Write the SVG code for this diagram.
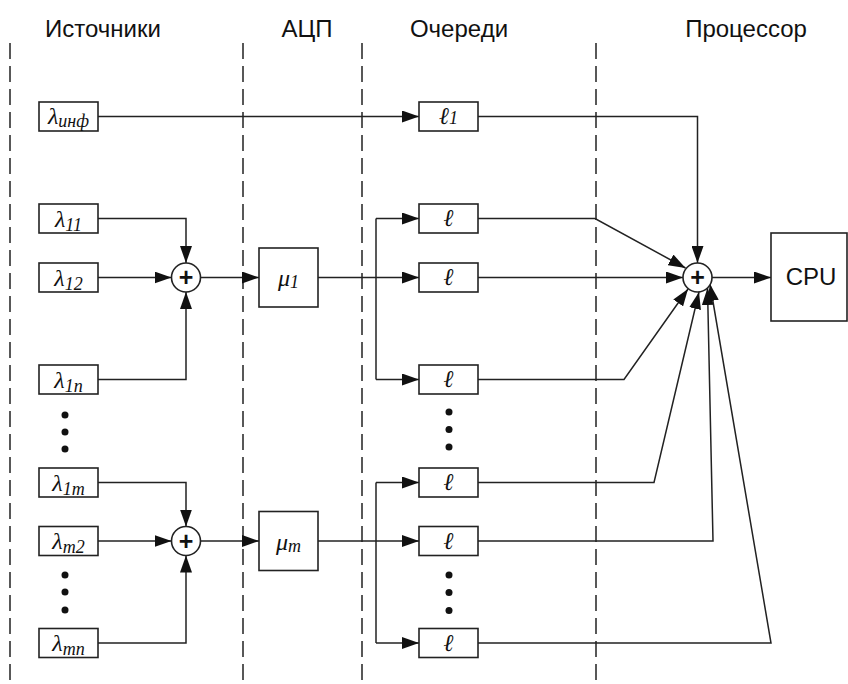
<svg xmlns="http://www.w3.org/2000/svg" width="848" height="684" viewBox="0 0 848 684">
<style>
.title{font-family:"Liberation Sans",Arial,sans-serif;font-size:24px;fill:#111;text-anchor:middle}
.box{fill:#fff;stroke:#222;stroke-width:1.6}
.ln{fill:none;stroke:#222;stroke-width:1.5}
.dash{fill:none;stroke:#222;stroke-width:1.5;stroke-dasharray:16,7}
.lbl{font-family:"Liberation Serif","Times New Roman",serif;font-style:italic;font-size:24px;fill:#111;text-anchor:middle}
.sub{font-size:18px}
.plus{font-family:"Liberation Sans",Arial,sans-serif;font-weight:bold;font-size:25px;fill:#111;text-anchor:middle}
.dot{fill:#111}
</style>
<defs>
<marker id="ar" markerUnits="userSpaceOnUse" markerWidth="18" markerHeight="12" refX="17" refY="6" orient="auto">
<path d="M0,0 L17,6 L0,12 z" fill="#111"/>
</marker>
</defs>
<rect width="848" height="684" fill="#fff"/>
<g id="titles">
<text class="title" x="103" y="37">Источники</text>
<text class="title" x="307" y="37">АЦП</text>
<text class="title" x="459" y="37">Очереди</text>
<text class="title" x="746" y="37">Процессор</text>
</g>
<g id="separators">
<line class="dash" x1="10" y1="43" x2="10" y2="684"/>
<line class="dash" x1="243" y1="43" x2="243" y2="684"/>
<line class="dash" x1="362" y1="43" x2="362" y2="684"/>
<line class="dash" x1="596" y1="43" x2="596" y2="684"/>
</g>
<g id="connectors">
<polyline class="ln" points="98,116.5 419,116.5" marker-end="url(#ar)"/>
<polyline class="ln" points="98,218.5 186,218.5 186,263" marker-end="url(#ar)"/>
<polyline class="ln" points="98,277.5 171.5,277.5" marker-end="url(#ar)"/>
<polyline class="ln" points="98,379.5 186,379.5 186,292" marker-end="url(#ar)"/>
<polyline class="ln" points="200.5,277.5 259,277.5" marker-end="url(#ar)"/>
<polyline class="ln" points="98,482.5 186,482.5 186,526.5" marker-end="url(#ar)"/>
<polyline class="ln" points="98,541 171.5,541" marker-end="url(#ar)"/>
<polyline class="ln" points="98,643 186,643 186,555.5" marker-end="url(#ar)"/>
<polyline class="ln" points="200.5,541 259,541" marker-end="url(#ar)"/>
<polyline class="ln" points="318,277.5 419,277.5" marker-end="url(#ar)"/>
<polyline class="ln" points="376,218.5 376,379.5"/>
<polyline class="ln" points="376,218.5 419,218.5" marker-end="url(#ar)"/>
<polyline class="ln" points="376,379.5 419,379.5" marker-end="url(#ar)"/>
<polyline class="ln" points="318,541 419,541" marker-end="url(#ar)"/>
<polyline class="ln" points="376,482.5 376,643"/>
<polyline class="ln" points="376,482.5 419,482.5" marker-end="url(#ar)"/>
<polyline class="ln" points="376,643 419,643" marker-end="url(#ar)"/>
<polyline class="ln" points="478,116.5 697.5,116.5 697.5,263" marker-end="url(#ar)"/>
<polyline class="ln" points="478,218.5 595,218.5 685.5,268" marker-end="url(#ar)"/>
<polyline class="ln" points="478,277.5 683,277.5" marker-end="url(#ar)"/>
<polyline class="ln" points="478,379.5 624,379.5 688,289" marker-end="url(#ar)"/>
<polyline class="ln" points="478,482.5 654,482.5 699,292" marker-end="url(#ar)"/>
<polyline class="ln" points="478,541 713,541 707.5,288" marker-end="url(#ar)"/>
<polyline class="ln" points="478,643 771,643 710,284" marker-end="url(#ar)"/>
<polyline class="ln" points="712,277.5 771,277.5" marker-end="url(#ar)"/>
</g>
<g id="src-inf"><rect class="box" x="39" y="102" width="59" height="29"/><text class="lbl" x="68.5" y="124">λ<tspan class="sub" dy="3">инф</tspan></text></g>
<g id="src-11"><rect class="box" x="39" y="204" width="59" height="29"/><text class="lbl" x="68.5" y="226.5">λ<tspan class="sub" dy="4">11</tspan></text></g>
<g id="src-12"><rect class="box" x="39" y="263" width="59" height="29"/><text class="lbl" x="68.5" y="285.5">λ<tspan class="sub" dy="4">12</tspan></text></g>
<g id="src-1n"><rect class="box" x="39" y="365" width="59" height="29"/><text class="lbl" x="68.5" y="387.5">λ<tspan class="sub" dy="4">1n</tspan></text></g>
<g id="src-1m"><rect class="box" x="39" y="468" width="59" height="29"/><text class="lbl" x="68.5" y="490.5">λ<tspan class="sub" dy="4">1m</tspan></text></g>
<g id="src-m2"><rect class="box" x="39" y="526.5" width="59" height="29"/><text class="lbl" x="68.5" y="549">λ<tspan class="sub" dy="4">m2</tspan></text></g>
<g id="src-mn"><rect class="box" x="39" y="628.5" width="59" height="29"/><text class="lbl" x="68.5" y="651">λ<tspan class="sub" dy="4">mn</tspan></text></g>
<g id="src-dots">
<circle class="dot" cx="65" cy="415" r="3.5"/><circle class="dot" cx="65" cy="432" r="3.5"/><circle class="dot" cx="65" cy="449" r="3.5"/>
<circle class="dot" cx="65" cy="575" r="3.5"/><circle class="dot" cx="65" cy="592" r="3.5"/><circle class="dot" cx="65" cy="610" r="3.5"/>
</g>
<g id="sum1"><circle class="box" cx="186" cy="277.5" r="14.5"/><text class="plus" x="186" y="286">+</text></g>
<g id="sum2"><circle class="box" cx="186" cy="541" r="14.5"/><text class="plus" x="186" y="549.5">+</text></g>
<g id="adc1"><rect class="box" x="259" y="248" width="59" height="59"/><text class="lbl" x="288.5" y="286">μ<tspan class="sub" dy="2">1</tspan></text></g>
<g id="adcm"><rect class="box" x="259" y="511.5" width="59" height="59"/><text class="lbl" x="288.5" y="549.5">μ<tspan class="sub" dy="2">m</tspan></text></g>
<g id="q1"><rect class="box" x="419" y="102" width="59" height="29"/><text class="lbl" x="448.5" y="124">ℓ<tspan class="sub" font-size="15px">1</tspan></text></g>
<g id="q-a"><rect class="box" x="419" y="204" width="59" height="29"/><text class="lbl" x="448.5" y="226">ℓ</text></g>
<g id="q-b"><rect class="box" x="419" y="263" width="59" height="29"/><text class="lbl" x="448.5" y="285">ℓ</text></g>
<g id="q-c"><rect class="box" x="419" y="365" width="59" height="29"/><text class="lbl" x="448.5" y="387">ℓ</text></g>
<g id="q-d"><rect class="box" x="419" y="468" width="59" height="29"/><text class="lbl" x="448.5" y="490">ℓ</text></g>
<g id="q-e"><rect class="box" x="419" y="526.5" width="59" height="29"/><text class="lbl" x="448.5" y="548.5">ℓ</text></g>
<g id="q-f"><rect class="box" x="419" y="628.5" width="59" height="29"/><text class="lbl" x="448.5" y="650.5">ℓ</text></g>
<g id="q-dots">
<circle class="dot" cx="449" cy="412" r="3.5"/><circle class="dot" cx="449" cy="429.5" r="3.5"/><circle class="dot" cx="449" cy="447" r="3.5"/>
<circle class="dot" cx="449" cy="575" r="3.5"/><circle class="dot" cx="449" cy="592.5" r="3.5"/><circle class="dot" cx="449" cy="610.5" r="3.5"/>
</g>
<g id="sum3"><circle class="box" cx="697.5" cy="277.5" r="14.5"/><text class="plus" x="697.5" y="286">+</text></g>
<g id="cpu"><rect class="box" x="771" y="233" width="76" height="88"/><text class="title" x="811" y="285">CPU</text></g>
</svg>
